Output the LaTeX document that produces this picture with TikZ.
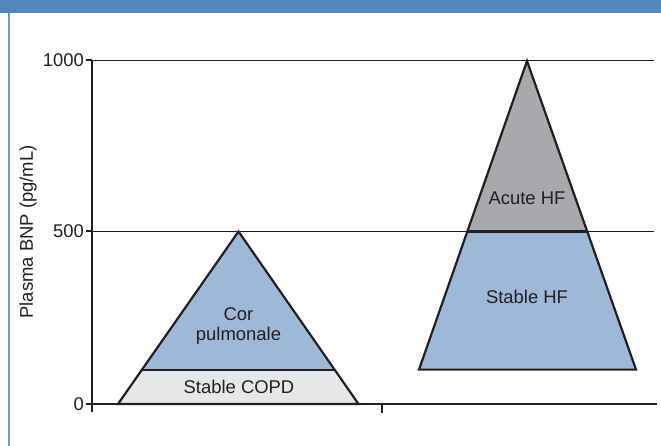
\documentclass[tikz,border=0pt]{standalone}
\usepackage{fontspec}
\setmainfont{Liberation Sans}
\definecolor{hdrblue}{RGB}{84,136,186}
\definecolor{brdblue}{RGB}{110,158,206}
\definecolor{triblue}{RGB}{158,185,216}
\definecolor{trigray}{RGB}{167,169,172}
\definecolor{copdgray}{RGB}{230,231,232}
\definecolor{ink}{RGB}{35,31,32}
\begin{document}
\begin{tikzpicture}[x=1bp,y=-1bp,
  lbl/.style={inner sep=0pt,text=ink,font=\fontsize{18.5}{20.5}\selectfont},
  gridline/.style={draw=ink,line width=0.9bp},
  outline/.style={draw=ink,line width=2.2bp,line join=miter},
  axisline/.style={draw=ink,line width=2bp}]
\useasboundingbox (0,0) rectangle (661,446);
% header and frame
\fill[hdrblue] (0,0) rectangle (661,13.5);
\fill[brdblue] (8,13.5) rectangle (10,446);
% coordinates
\coordinate (o) at (92,404);
\coordinate (y500) at (92,231.5);
\coordinate (y1000) at (92,60);
\coordinate (r500) at (654,231.5);
\coordinate (r1000) at (654,60);
\coordinate (xend) at (657,404);
\coordinate (xt) at (382,404);
% grid lines
\draw[gridline] (y1000) -- (r1000);
\draw[gridline] (y500) -- (r500);
% left triangle
\coordinate (la) at (238.5,231.5);
\coordinate (ll) at (118,404);
\coordinate (lr) at (358.5,404);
\coordinate (lml) at (142,370);
\coordinate (lmr) at (334.5,370);
\fill[copdgray] (ll) -- (lr) -- (lmr) -- (lml) -- cycle;
\fill[triblue] (lml) -- (la) -- (lmr) -- cycle;
\draw[outline] (ll) -- (la) -- (lr) -- cycle;
\draw[outline] (lml) -- (lmr);
% right triangle
\coordinate (ra) at (527,61);
\coordinate (rl) at (419,369.6);
\coordinate (rr) at (636,369.6);
\coordinate (rml) at (467.5,231.5);
\coordinate (rmr) at (587,231.5);
\fill[triblue] (rl) -- (rr) -- (rmr) -- (rml) -- cycle;
\fill[trigray] (rml) -- (ra) -- (rmr) -- cycle;
\draw[outline] (rl) -- (ra) -- (rr) -- cycle;
\draw[outline] (rml) -- (rmr);
% axes
\draw[axisline] (y1000) -- (92,412);
\draw[draw=ink,line width=2.5bp] (o) -- (xend);
\draw[axisline] (xt) -- (382,413);
\draw[axisline] (86,60) -- (y1000);
\draw[axisline] (86,231.5) -- (y500);
\draw[axisline] (86,404) -- (o);
% tick labels
\node[lbl,anchor=east] (t1000) at (84,60) {1000};
\node[lbl,anchor=east] (t500) at (84,231.5) {500};
\node[lbl,anchor=east] (t0) at (84,404) {0};
\node[lbl,rotate=90] (ylab) at (28,232) {Plasma BNP (pg/mL)};
% region labels
\node[lbl,align=center] (cor) at (238.5,326) {Cor\\pulmonale};
\node[lbl] (copd) at (239,386.5) {Stable COPD};
\node[lbl] (acute) at (527,198.5) {Acute HF};
\node[lbl] (stable) at (527,297) {Stable HF};
\end{tikzpicture}
\end{document}
